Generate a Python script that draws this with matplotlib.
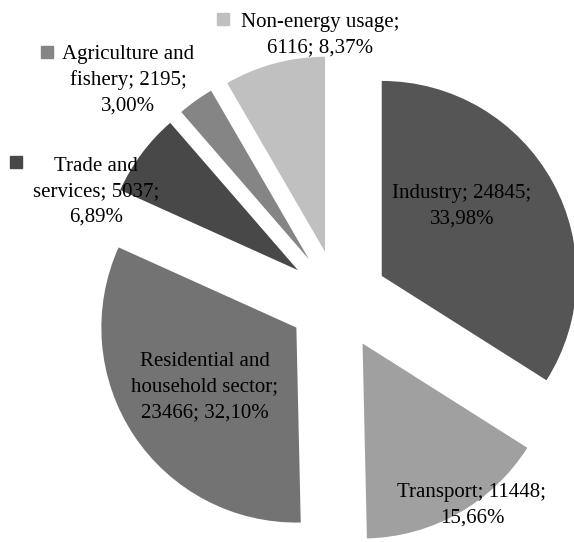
import matplotlib.pyplot as plt

plt.rcParams['font.family'] = ['Liberation Serif', 'DejaVu Serif']

# final energy consumption by sector
sectors = ['Industry', 'Transport', 'Residential and household sector',
           'Trade and services', 'Agriculture and fishery', 'Non-energy usage']
values = [24845, 11448, 23466, 5037, 2195, 6116]
percents = ['33,98%', '15,66%', '32,10%', '6,89%', '3,00%', '8,37%']
colors = ['#555555', '#a0a0a0', '#737373', '#484848', '#858585', '#c0c0c0']

label_texts = [
    'Industry; 24845;\n33,98%',
    'Transport; 11448;\n15,66%',
    'Residential and\nhousehold sector;\n23466; 32,10%',
    'Trade and\nservices; 5037;\n6,89%',
    'Agriculture and\nfishery; 2195;\n3,00%',
    'Non-energy usage;\n6116; 8,37%',
]
# label anchor points (data units, pie radius = 1)
label_pos = [(0.636, 0.482), (0.687, -1.051), (-0.682, -0.446),
             (-1.241, 0.554), (-1.077, 1.128), (-0.092, 1.359)]
# small legend squares next to the outside labels (None = no square)
square_pos = [None, None, None, (-1.651, 0.708), (-1.492, 1.272), (-0.590, 1.441)]

fig = plt.figure(figsize=(5.74, 5.42), dpi=100)
ax = fig.add_axes([0, 0, 1, 1])

ax.pie(values, colors=colors, startangle=90, counterclock=False,
       explode=[0.256] * len(values), radius=1.0,
       wedgeprops=dict(linewidth=0))

for i, txt in enumerate(label_texts):
    x, y = label_pos[i]
    ax.text(x, y, txt, ha='center', va='center', fontsize=15,
            linespacing=1.45, color='black', multialignment='center')
    if square_pos[i] is not None:
        sx, sy = square_pos[i]
        ax.plot(sx, sy, marker='s', markersize=8, color=colors[i],
                linestyle='none')

ax.set_xlim(-338 / 195, 236 / 195)
ax.set_ylim(-242 / 195, 300 / 195)
ax.set_aspect('auto')
ax.axis('off')

plt.savefig('out.png', dpi=100)
